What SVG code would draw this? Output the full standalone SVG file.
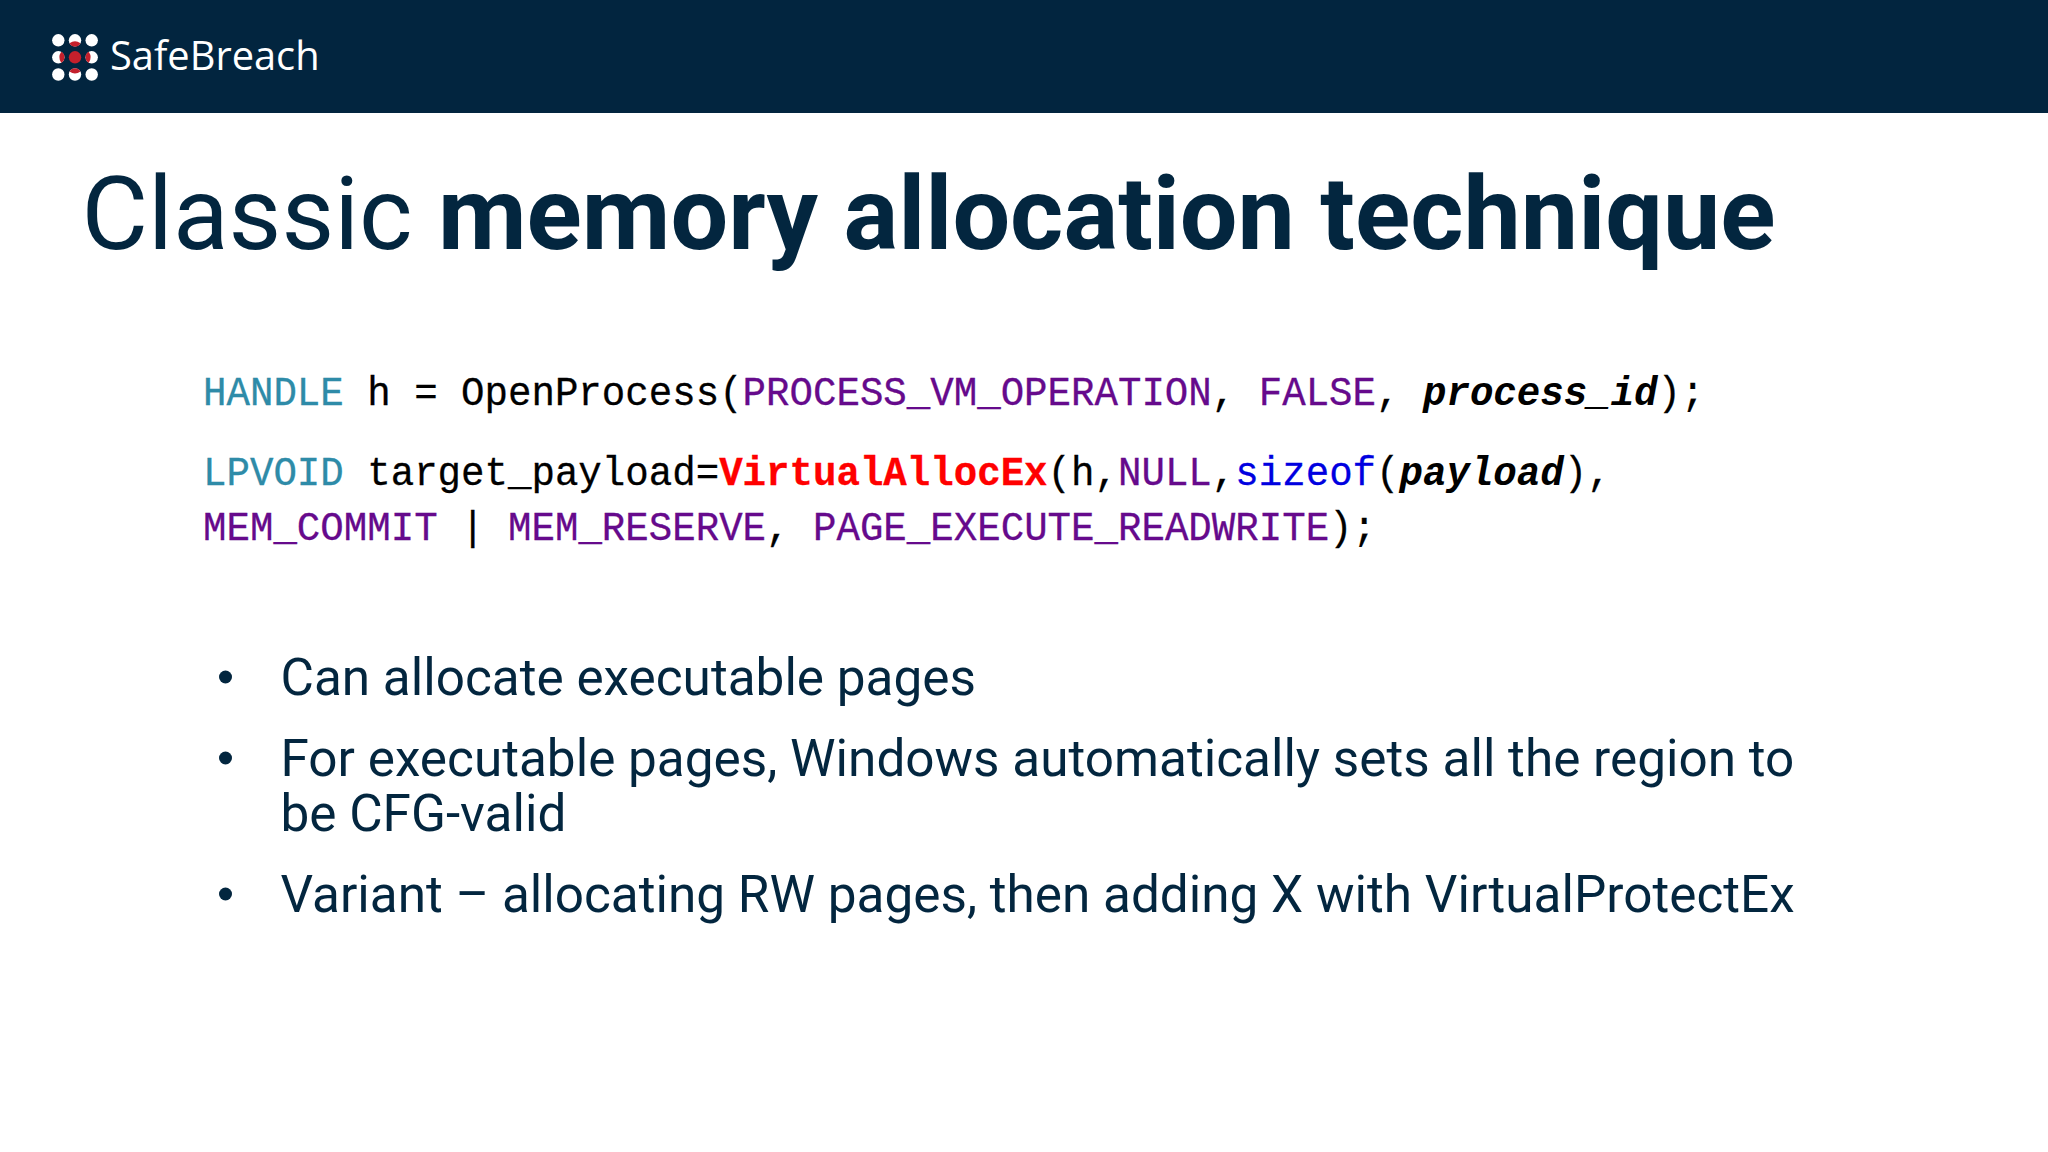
<svg xmlns="http://www.w3.org/2000/svg" width="2048" height="1152" viewBox="0 0 2048 1152">
<style>
.code{font-family:"Liberation Mono",monospace;font-size:41px;fill:#000;stroke:#000;stroke-width:.3px}
.p{fill:#660a8c;stroke:#660a8c}.t{fill:#2e8ba8;stroke:#2e8ba8}.r{fill:#f00;stroke:#f00;font-weight:700}.b{fill:#0000e0;stroke:#0000e0}.i{font-style:italic;font-weight:700;stroke-width:0}
.body{font-family:Roboto,sans-serif;font-size:51.300px;fill:#03263f}
.title{font-family:Roboto,sans-serif;font-size:102.300px;fill:#03263f}
.w{fill:#fff}.red{fill:#c4202c}
</style>
<rect width="2048" height="1152" fill="#fff"/>
<g id="header"><rect width="2048" height="113" fill="#02253f"/>
<g id="logo">
<circle class="w" cx="58.300" cy="40.300" r="6.200"/><circle class="w" cx="75" cy="40.300" r="6.200"/><circle class="w" cx="91.700" cy="40.300" r="6.200"/>
<circle class="w" cx="58.300" cy="57.300" r="6.200"/><circle class="red" cx="75" cy="57.300" r="6.200"/><circle class="w" cx="91.700" cy="57.300" r="6.200"/>
<circle class="w" cx="58.300" cy="74.500" r="6.200"/><circle class="w" cx="75" cy="74.500" r="6.200"/><circle class="w" cx="91.700" cy="74.500" r="6.200"/>
<path class="red" d="M69.500 43.200A6.200 6.200 0 0 0 80.500 43.200Q75 39.500 69.500 43.200ZM61.200 51.800A6.200 6.200 0 0 1 61.200 62.800Q57.500 57.300 61.200 51.800ZM88.800 51.800A6.200 6.200 0 0 0 88.800 62.800Q92.500 57.300 88.800 51.800ZM69.500 71.600A6.200 6.200 0 0 1 80.500 71.600Q75 75.300 69.500 71.600Z"/>
<text x="110" y="70" font-family="'Open Sans',sans-serif" font-size="39.800" font-weight="500" fill="#fff">SafeBreach</text>
</g></g>
<text class="title" x="81.500" y="249"><tspan font-weight="400">Classic </tspan><tspan font-weight="700">memory allocation technique</tspan></text>
<text class="code" transform="translate(203,405) scale(.954,1)" xml:space="preserve"><tspan class="t">HANDLE</tspan> h = OpenProcess(<tspan class="p">PROCESS_VM_OPERATION</tspan>, <tspan class="p">FALSE</tspan>, <tspan class="i">process_id</tspan>);</text>
<text class="code" transform="translate(203,485) scale(.954,1)" xml:space="preserve"><tspan class="t">LPVOID</tspan> target_payload=<tspan class="r">VirtualAllocEx</tspan>(h,<tspan class="p">NULL</tspan>,<tspan class="b">sizeof</tspan>(<tspan class="i">payload</tspan>),</text>
<text class="code" transform="translate(203,540) scale(.954,1)" xml:space="preserve"><tspan class="p">MEM_COMMIT</tspan> | <tspan class="p">MEM_RESERVE</tspan>, <tspan class="p">PAGE_EXECUTE_READWRITE</tspan>);</text>
<g id="bullets">
<circle cx="225.500" cy="677" r="6.500" fill="#03263f"/><circle cx="225.500" cy="758" r="6.500" fill="#03263f"/><circle cx="225.500" cy="894" r="6.500" fill="#03263f"/>
<text class="body" x="280.500" y="694.500">Can allocate executable pages</text>
<text class="body" x="280.500" y="775.500">For executable pages, Windows automatically sets all the region to</text>
<text class="body" x="280.500" y="830.500">be CFG-valid</text>
<text class="body" x="280.500" y="911.500">Variant – allocating RW pages, then adding X with VirtualProtectEx</text>
</g>
</svg>
